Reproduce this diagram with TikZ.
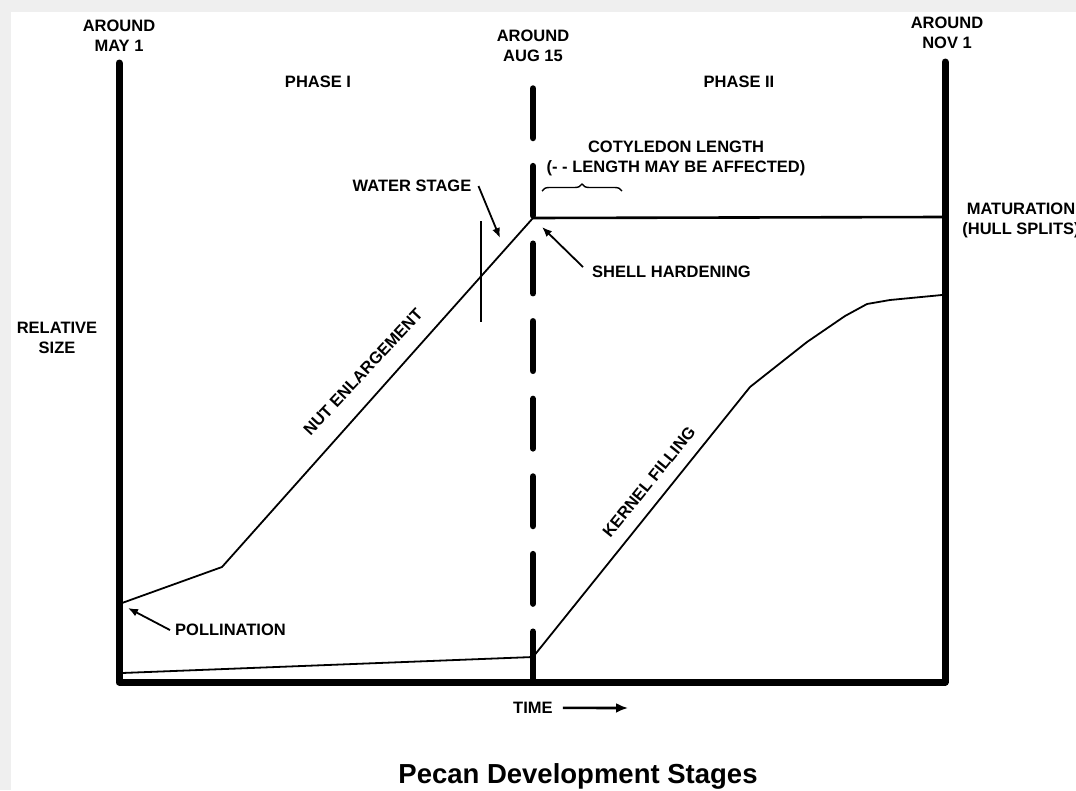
\documentclass[tikz,border=0pt]{standalone}
\usepackage{fontspec}
\setmainfont{Liberation Sans}
\usetikzlibrary{arrows.meta,decorations.pathreplacing}
\newcommand\lblfont{\fontsize{16.5}{20}\selectfont\bfseries}
\definecolor{framegray}{HTML}{EFEFEF}
\begin{document}
\begin{tikzpicture}[x=1pt,y=-1pt,
  lbl/.style={font=\lblfont, inner sep=0pt, align=center},
  axisline/.style={line width=7pt, line cap=round, line join=round},
  divider/.style={line width=6.5pt, line cap=round, dash pattern=on 49.5pt off 28.1pt},
  curve/.style={line width=1.8pt, line join=round},
  arr/.style={line width=1.8pt, -{Latex[length=10pt,width=8pt]}},
  bigarr/.style={line width=2.6pt, -{Latex[length=12pt,width=10pt]}},
  bracestyle/.style={line width=1.4pt, decorate, decoration={brace, amplitude=7pt}}]
\useasboundingbox (0,0) rectangle (1076,790);
\clip (0,0) rectangle (1076,790);
\fill[framegray] (0,0) rectangle (1076,790);
\fill[white] (11,12) rectangle (1076,790);

% axes and dividers
\coordinate (maytop) at (119,63);
\coordinate (origin) at (119,682);
\coordinate (novbot) at (945,682);
\coordinate (novtop) at (945,62);
\draw[axisline] (maytop) -- (origin) -- (novbot) -- (novtop);
\coordinate (augtop) at (533,88.5);
\coordinate (augbot) at (533,681);
\draw[divider] (augtop) -- (augbot);

% nut curve
\coordinate (poll) at (122,603);
\coordinate (knee) at (222,567);
\coordinate (peak) at (533,218);
\coordinate (mat) at (942,217);
\draw[curve] (poll) -- (knee) -- (peak);
\draw[line width=2.6pt] (peak) -- (mat);
\coordinate (wtop) at (481,221);
\coordinate (wbot) at (481,322);
\draw[curve] (wtop) -- (wbot);

% kernel curve
\coordinate (k0) at (122,673);
\coordinate (k1) at (533,657);
\coordinate (k2) at (750,387);
\coordinate (k3) at (807,342);
\coordinate (k4) at (845,316);
\coordinate (k5) at (867,304);
\coordinate (k6) at (890,300);
\coordinate (k7) at (942,295);
\draw[curve] (k0) -- (k1) -- (k2) -- (k3) -- (k4) -- (k5) -- (k6) -- (k7);

% brace
\coordinate (bl) at (542,191);
\coordinate (br) at (622,191);
\draw[bracestyle] (bl) -- (br);

% labels
\node[lbl, anchor=north] (may) at (119,20) {AROUND\\MAY 1};
\node[lbl, anchor=north] (aug) at (533,30) {AROUND\\AUG 15};
\node[lbl, anchor=north] (nov) at (947,17) {AROUND\\NOV 1};
\node[lbl, anchor=north] (ph1) at (318,76) {PHASE I};
\node[lbl, anchor=north] (ph2) at (739,76) {PHASE II};
\node[lbl, anchor=north] (coty) at (676,141) {COTYLEDON LENGTH\\(- - LENGTH MAY BE AFFECTED)};
\node[lbl, anchor=north] (matur) at (1021,203) {MATURATION\\(HULL SPLITS)};
\node[lbl, anchor=north] (water) at (412,180) {WATER STAGE};
\node[lbl, anchor=north west] (shell) at (592,266) {SHELL HARDENING};
\node[lbl, anchor=north] (relsize) at (57,322) {RELATIVE\\SIZE};
\node[lbl, anchor=north west] (pollination) at (175,624) {POLLINATION};
\node[lbl, anchor=north west] (time) at (513,702) {TIME};
\node[lbl, rotate=47] (nut) at (363,372) {NUT ENLARGEMENT};
\node[lbl, rotate=51] (kernel) at (649,482) {KERNEL FILLING};
\node[font=\fontsize{27.5}{30}\selectfont\bfseries, inner sep=0pt, anchor=base] (title) at (578,783) {Pecan Development Stages};

% arrows
\coordinate (wstip) at (500,238);
\draw[arr] ([xshift=7pt]water.east) -- (wstip);
\coordinate (shtip) at (542,227);
\draw[arr] ([xshift=-9pt,yshift=5pt]shell.west) -- (shtip);
\coordinate (poltip) at (128,608);
\draw[arr] ([xshift=-5pt]pollination.west) -- (poltip);
\coordinate (timetip) at (628,708);
\draw[bigarr] ([xshift=10pt]time.east) -- (timetip);
\end{tikzpicture}
\end{document}
